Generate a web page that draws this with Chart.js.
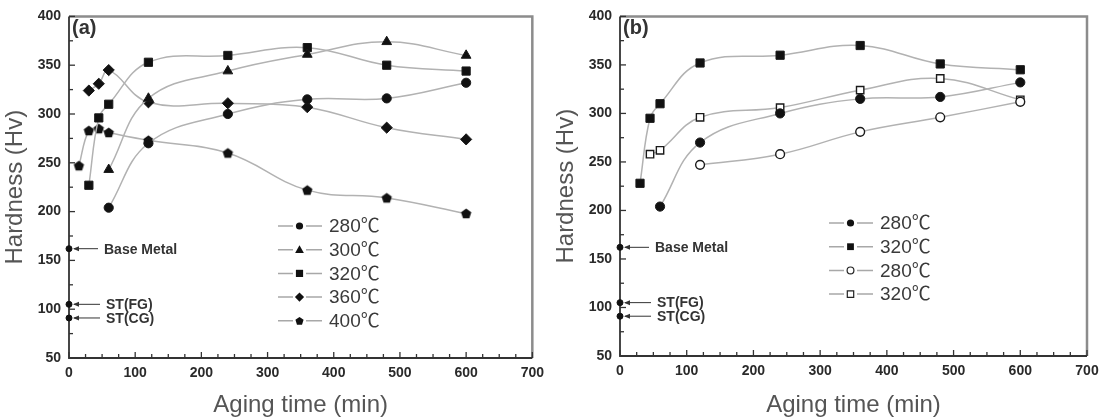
<!DOCTYPE html>
<html><head><meta charset="utf-8">
<script src="https://cdn.jsdelivr.net/npm/chart.js@4.4.0/dist/chart.umd.min.js"></script>
<style>
html,body{margin:0;padding:0;background:#fff;}
#wrap{position:relative;width:1112px;height:417px;overflow:hidden;background:#fff;}
#ca{position:absolute;left:0;top:0;}
#cb{position:absolute;left:551px;top:0;}
</style></head><body>
<div id="wrap"><canvas id="ca" width="551" height="417"></canvas><canvas id="cb" width="561" height="417"></canvas></div>
<script>
// ---- tick labels ----
const xTickValues = [0, 100, 200, 300, 400, 500, 600, 700];
const yTickValues = [50, 100, 150, 200, 250, 300, 350, 400];

// ---- panel (a) ----
const a280x = [60, 120, 240, 360, 480, 600];
const a280y = [204, 270, 300, 315, 316, 332];
const a300x = [60, 120, 240, 360, 480, 600];
const a300y = [243, 316, 344, 361, 374, 360];
const a320x = [30, 45, 60, 120, 240, 360, 480, 600];
const a320y = [227, 296, 310, 353, 360, 368, 350, 344];
const a360x = [30, 45, 60, 120, 240, 360, 480, 600];
const a360y = [324, 331, 345, 312, 311, 307, 286, 274];
const a400x = [15, 30, 45, 60, 120, 240, 360, 480, 600];
const a400y = [247, 283, 285, 281, 273, 260, 222, 214, 198];
const aLegend = ['280℃', '300℃', '320℃', '360℃', '400℃'];

// ---- panel (b) ----
const b280x = [60, 120, 240, 360, 480, 600];
const b280y = [204, 270, 300, 315, 317, 332];
const b320x = [30, 45, 60, 120, 240, 360, 480, 600];
const b320y = [228, 295, 310, 352, 360, 370, 351, 345];
const b280ox = [120, 240, 360, 480, 600];
const b280oy = [247, 258, 281, 296, 312];
const b320ox = [45, 60, 120, 240, 360, 480, 600];
const b320oy = [258, 262, 296, 306, 324, 336, 314];
const bLegend = ['280℃', '320℃', '280℃', '320℃'];

// ---- reference levels at t = 0 ----
const refLabels = ['Base Metal', 'ST(FG)', 'ST(CG)'];
const refValues = [162, 105, 91];

const toPts = (xs, ys) => xs.map((x, i) => ({x: x, y: ys[i]}));

function makePentagon(r) {
  const s = Math.ceil(r * 2 + 2);
  const c = document.createElement('canvas');
  c.width = s; c.height = s;
  const g = c.getContext('2d');
  g.fillStyle = '#111';
  g.beginPath();
  for (let i = 0; i < 5; i++) {
    const a = -Math.PI / 2 + i * 2 * Math.PI / 5;
    const px = s / 2 + r * Math.cos(a), py = s / 2 + r * Math.sin(a) + 0.5;
    i ? g.lineTo(px, py) : g.moveTo(px, py);
  }
  g.closePath(); g.fill();
  return c;
}
const pent = makePentagon(5.4);

function drawMarker(ctx, style, x, y, r, open) {
  ctx.save();
  ctx.fillStyle = open ? '#fff' : '#111';
  ctx.strokeStyle = '#222';
  ctx.lineWidth = open ? 1.2 : 1;
  ctx.beginPath();
  if (style === 'circle') ctx.arc(x, y, r, 0, Math.PI * 2);
  else if (style === 'rect') ctx.rect(x - r, y - r, 2 * r, 2 * r);
  else if (style === 'triangle') { ctx.moveTo(x, y - r); ctx.lineTo(x + r, y + r * 0.75); ctx.lineTo(x - r, y + r * 0.75); ctx.closePath(); }
  else if (style === 'diamond') { ctx.moveTo(x, y - r); ctx.lineTo(x + r, y); ctx.lineTo(x, y + r); ctx.lineTo(x - r, y); ctx.closePath(); }
  else if (style === 'pent') {
    for (let i = 0; i < 5; i++) { const a = -Math.PI / 2 + i * 2 * Math.PI / 5; const px = x + r * Math.cos(a), py = y + r * Math.sin(a) + 0.4; i ? ctx.lineTo(px, py) : ctx.moveTo(px, py); }
    ctx.closePath();
  }
  ctx.fill();
  if (open) ctx.stroke();
  ctx.restore();
}

function decorPlugin(opts) {
  return {
    id: 'decor',
    beforeDatasetsDraw(chart) {
      const {ctx, chartArea: {left, right, top, bottom}, scales: {x, y}} = chart;
      ctx.save();
      ctx.lineCap = 'butt';
      ctx.strokeStyle = '#8c8c8c'; ctx.lineWidth = 2.5;
      ctx.beginPath(); ctx.moveTo(left, top); ctx.lineTo(right, top); ctx.lineTo(right, bottom); ctx.stroke();
      ctx.strokeStyle = '#333'; ctx.lineWidth = 1.8;
      ctx.beginPath(); ctx.moveTo(left, top); ctx.lineTo(left, bottom); ctx.lineTo(right, bottom); ctx.stroke();
      ctx.lineWidth = 1.3;
      for (let v = x.min; v <= x.max; v += 25) {
        const px = x.getPixelForValue(v);
        const len = (v % 100 === 0) ? 6 : 4;
        ctx.beginPath(); ctx.moveTo(px, bottom); ctx.lineTo(px, bottom - len); ctx.stroke();
      }
      for (let v = y.min; v <= y.max; v += 25) {
        const py = y.getPixelForValue(v);
        const len = (v % 50 === 0) ? 6 : 4;
        ctx.beginPath(); ctx.moveTo(left, py); ctx.lineTo(left + len, py); ctx.stroke();
      }
      ctx.restore();
    },
    afterDatasetsDraw(chart) {
      const {ctx, chartArea: {left}, scales: {x, y}} = chart;
      ctx.save();
      ctx.fillStyle = '#333';
      ctx.font = 'bold 20px "Liberation Sans", Arial, sans-serif';
      ctx.textBaseline = 'middle'; ctx.textAlign = 'left';
      ctx.fillText(opts.label, left + 3, 28);
      ctx.font = 'bold 14px "Liberation Sans", Arial, sans-serif';
      ctx.strokeStyle = '#333'; ctx.fillStyle = '#333'; ctx.lineWidth = 1;
      refLabels.forEach((t, i) => {
        const py = y.getPixelForValue(refValues[i]);
        const x0 = x.getPixelForValue(0);
        const tx = x0 + (i === 0 ? 35 : 37);
        ctx.beginPath(); ctx.moveTo(x0 + 5, py); ctx.lineTo(tx - 6, py); ctx.stroke();
        ctx.beginPath(); ctx.moveTo(x0 + 4, py); ctx.lineTo(x0 + 10, py - 2.5); ctx.lineTo(x0 + 10, py + 2.5); ctx.closePath(); ctx.fill();
        ctx.fillText(t, tx, py + 1);
      });
      ctx.font = '19px "Liberation Sans", Arial, "Noto Sans CJK SC", sans-serif';
      opts.legend.forEach((t, i) => {
        const ly = opts.legendY + i * 23.7;
        ctx.strokeStyle = '#a8a8a8'; ctx.lineWidth = 1.5;
        ctx.beginPath(); ctx.moveTo(278, ly); ctx.lineTo(293, ly); ctx.moveTo(306, ly); ctx.lineTo(322, ly); ctx.stroke();
        const m = opts.markers[i];
        drawMarker(ctx, m[0], 299.5, ly, m[1], m[2]);
        ctx.fillStyle = '#3a3a3a';
        ctx.fillText(t, 329, ly + 1);
      });
      ctx.restore();
    }
  };
}

function lineDS(data, style, radius, open) {
  return {
    data: data, showLine: true,
    borderColor: '#b2b2b2', borderWidth: 1.5,
    tension: 0.4,
    pointStyle: style, pointRadius: radius,
    pointBackgroundColor: open ? '#fff' : '#111',
    pointBorderColor: '#1a1a1a', pointBorderWidth: open ? 1.4 : 1,
    clip: false
  };
}
function refDS() {
  return {data: refValues.map(v => ({x: 0, y: v})), showLine: false, pointRadius: 3,
    pointBackgroundColor: '#111', pointBorderColor: '#111', clip: false};
}

function makeChart(id, datasets, rightPad, xAxisH, opts) {
  return new Chart(document.getElementById(id), {
    type: 'scatter',
    data: {datasets: datasets},
    options: {
      responsive: false, devicePixelRatio: 1, animation: false, events: [],
      layout: {padding: {top: 10, right: rightPad, left: 0, bottom: 0}},
      plugins: {legend: {display: false}, tooltip: {enabled: false}},
      scales: {
        x: {
          type: 'linear', min: 0, max: 700,
          afterBuildTicks: s => { s.ticks = xTickValues.map(v => ({value: v})); },
          afterFit: s => { s.height = xAxisH; },
          grid: {display: false, drawTicks: false}, border: {display: false},
          ticks: {color: '#2a2a2a', padding: 7, maxRotation: 0, font: {family: '"Liberation Sans", Arial, sans-serif', size: 14, weight: 'bold'}},
          title: {display: true, text: 'Aging time (min)', color: '#555', padding: {top: 0, bottom: 0},
            font: {family: '"Liberation Sans", Arial, sans-serif', size: 24, lineHeight: 1.0}}
        },
        y: {
          type: 'linear', min: 50, max: 400,
          afterBuildTicks: s => { s.ticks = yTickValues.map(v => ({value: v})); },
          afterFit: s => { s.width = 69; },
          grid: {display: false, drawTicks: false}, border: {display: false},
          ticks: {color: '#2a2a2a', padding: 8, font: {family: '"Liberation Sans", Arial, sans-serif', size: 14, weight: 'bold'}},
          title: {display: true, text: 'Hardness (Hv)', color: '#555', padding: {top: 3, bottom: 0},
            font: {family: '"Liberation Sans", Arial, sans-serif', size: 24, lineHeight: 1.0}}
        }
      }
    },
    plugins: [decorPlugin(opts)]
  });
}

makeChart('ca', [
  lineDS(toPts(a280x, a280y), 'circle', 4.6),
  lineDS(toPts(a300x, a300y), 'triangle', 5.6),
  lineDS(toPts(a320x, a320y), 'rect', 5.8),
  lineDS(toPts(a360x, a360y), 'rectRot', 5.6),
  lineDS(toPts(a400x, a400y), pent, 5),
  refDS()
], 10, 59, {
  label: '(a)', legend: aLegend, legendY: 226,
  markers: [['circle', 3.6], ['triangle', 4.4], ['rect', 3.6], ['diamond', 4.6], ['pent', 4.3]]
});

makeChart('cb', [
  lineDS(toPts(b280x, b280y), 'circle', 4.6),
  lineDS(toPts(b320x, b320y), 'rect', 5.8),
  lineDS(toPts(b280ox, b280oy), 'circle', 4.4, true),
  lineDS(toPts(b320ox, b320oy), 'rect', 5.2, true),
  refDS()
], 25, 61, {
  label: '(b)', legend: bLegend, legendY: 223,
  markers: [['circle', 3.6, false], ['rect', 3.4, false], ['circle', 3.4, true], ['rect', 3.2, true]]
});
</script>
</body></html>
